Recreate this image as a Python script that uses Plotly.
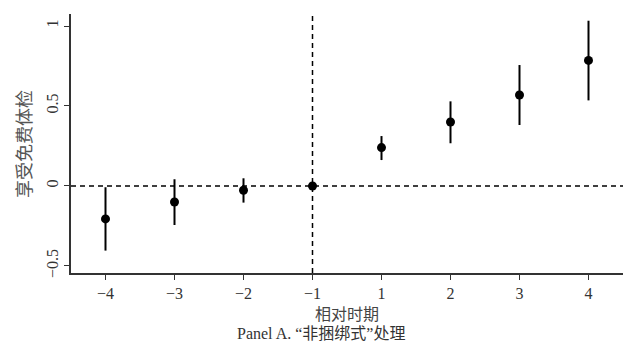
import plotly.graph_objects as go

categories = ["−4", "−3", "−2", "−1", "1", "2", "3", "4"]
estimates = [-0.206, -0.100, -0.027, 0.0, 0.240, 0.400, 0.569, 0.785]
ci_upper = [-0.008, 0.042, 0.048, 0.0, 0.312, 0.529, 0.756, 1.033]
ci_lower = [-0.404, -0.244, -0.104, 0.0, 0.162, 0.267, 0.381, 0.535]
y_tick_vals = [-0.5, 0, 0.5, 1]
y_tick_text = ["−0.5", "0", "0.5", "1"]
y_title = "享受免费体检"
x_title = "相对时期"
caption = "Panel A. “非捆绑式”处理"
ref_period = "−1"

FONT = "Liberation Serif, Noto Sans CJK SC, serif"
CJK = "Noto Sans CJK SC, Liberation Serif, serif"

err_plus = [u - e for u, e in zip(ci_upper, estimates)]
err_minus = [e - l for e, l in zip(estimates, ci_lower)]

fig = go.Figure()
fig.add_trace(go.Scatter(
    x=categories, y=estimates, mode="markers",
    marker=dict(color="black", size=9),
    error_y=dict(type="data", array=err_plus, arrayminus=err_minus,
                 width=0, thickness=2, color="black"),
    showlegend=False,
))

fig.add_shape(type="line", xref="paper", yref="y", x0=0, x1=1, y0=0, y1=0,
              line=dict(color="black", width=1.5, dash="5px,4px"), layer="below")
fig.add_shape(type="line", xref="x", yref="paper", x0=ref_period, x1=ref_period, y0=0, y1=1,
              line=dict(color="black", width=1.5, dash="5px,4px"), layer="below")

fig.update_layout(
    width=623, height=344,
    margin=dict(l=71, r=0, t=14, b=71),
    plot_bgcolor="white", paper_bgcolor="white",
    font=dict(family=FONT, size=16, color="#333333"),
    xaxis=dict(type="category", range=[-0.5, 7.5], showline=True, linecolor="#333333",
               linewidth=2, ticks="outside", ticklen=5, tickcolor="#333333",
               showgrid=False, zeroline=False, tickfont=dict(size=16)),
    yaxis=dict(range=[-0.544, 1.075], showline=True, linecolor="#333333", linewidth=2,
               ticks="outside", ticklen=5, tickcolor="#333333", showgrid=False,
               zeroline=False, tickvals=y_tick_vals, ticktext=y_tick_text,
               tickangle=-90, tickfont=dict(size=16)),
    annotations=[
        dict(text=y_title, xref="paper", yref="paper", x=-0.088, y=0.5, textangle=-90,
             showarrow=False, xanchor="center", yanchor="middle",
             font=dict(family=CJK, size=18, color="#555555")),
        dict(text=x_title, xref="paper", yref="paper", x=0.5, y=-0.153,
             showarrow=False, xanchor="center", yanchor="middle",
             font=dict(family=CJK, size=16, color="#444444")),
        dict(text=caption, xref="paper", yref="paper", x=0.453, y=-0.235,
             showarrow=False, xanchor="center", yanchor="middle",
             font=dict(family=FONT, size=16, color="#333333")),
    ],
)

fig.write_html("out.html", config={"displayModeBar": False},
               post_script="document.body.style.margin='0';document.body.style.padding='0';document.body.style.overflow='hidden';")
